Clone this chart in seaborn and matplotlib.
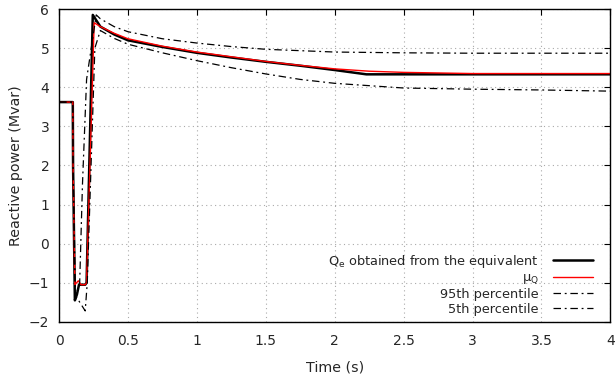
import numpy as np
import pandas as pd
import matplotlib
matplotlib.use("Agg")
import matplotlib.pyplot as plt
import seaborn as sns

# Reactive power response (Mvar) vs time (s)
t_eq = [0.0, 0.10, 0.102, 0.115, 0.13, 0.145, 0.19, 0.20, 0.245, 0.30, 0.40, 0.50, 0.75, 1.0, 1.25, 1.5, 1.75, 2.0, 2.23, 3.0, 4.0]
q_eq = [3.62, 3.62, 2.0, -1.45, -1.3, -1.05, -1.05, -1.0, 5.85, 5.55, 5.35, 5.2, 5.03, 4.88, 4.76, 4.65, 4.55, 4.44, 4.33, 4.33, 4.33]

t_mu = [0.0, 0.10, 0.102, 0.115, 0.14, 0.16, 0.19, 0.20, 0.255, 0.30, 0.40, 0.50, 0.75, 1.0, 1.25, 1.5, 1.75, 2.0, 2.25, 2.5, 3.0, 4.0]
q_mu = [3.62, 3.62, 2.0, -1.05, -0.95, -1.05, -1.05, -1.0, 5.65, 5.55, 5.38, 5.24, 5.05, 4.9, 4.78, 4.66, 4.56, 4.47, 4.41, 4.38, 4.35, 4.35]

t_p95 = [0.0, 0.10, 0.102, 0.12, 0.15, 0.17, 0.20, 0.27, 0.30, 0.40, 0.50, 0.75, 1.0, 1.25, 1.5, 2.0, 2.5, 3.0, 3.5, 4.0]
q_p95 = [3.62, 3.62, 2.0, -1.35, -1.0, 1.5, 4.2, 5.85, 5.75, 5.55, 5.42, 5.24, 5.13, 5.04, 4.97, 4.90, 4.88, 4.87, 4.87, 4.87]

t_p05 = [0.0, 0.10, 0.102, 0.115, 0.19, 0.205, 0.26, 0.30, 0.40, 0.50, 0.75, 1.0, 1.25, 1.5, 1.75, 2.0, 2.5, 3.0, 3.5, 4.0]
q_p05 = [3.62, 3.62, 2.0, -1.3, -1.72, -1.0, 5.0, 5.45, 5.25, 5.1, 4.88, 4.68, 4.5, 4.34, 4.2, 4.1, 3.98, 3.95, 3.93, 3.9]

labels = ["Q$_\\mathregular{e}$ obtained from the equivalent", "μ$_\\mathregular{Q}$",
          "95th percentile", "5th percentile"]

sns.set_theme(style="white")
plt.rcParams["font.family"] = ["DejaVu Sans"]
plt.rcParams["mathtext.default"] = "regular"

fig = plt.figure(figsize=(6.16, 3.76), dpi=100)
ax = fig.add_axes([0.0958, 0.144, 0.895, 0.832])

dashdot = (6, 3, 1.5, 3)
series = [
    (t_eq, q_eq, labels[0], "black", 1.8, ""),
    (t_mu, q_mu, labels[1], "#ff0000", 1.0, ""),
    (t_p95, q_p95, labels[2], "black", 0.9, dashdot),
    (t_p05, q_p05, labels[3], "black", 0.9, dashdot),
]
for t, q, lab, col, lw, dash in series:
    df = pd.DataFrame({"t": t, "q": q})
    line_ax = sns.lineplot(data=df, x="t", y="q", ax=ax, color=col, linewidth=lw,
                           label=lab, sort=False, estimator=None)
    if dash:
        line_ax.lines[-1].set_dashes(dash)

ax.set_xlim(0, 4)
ax.set_ylim(-2, 6)
ax.set_xticks(np.arange(0, 4.01, 0.5))
ax.set_xticklabels(["0", "0.5", "1", "1.5", "2", "2.5", "3", "3.5", "4"])
ax.set_yticks(np.arange(-2, 6.01, 1))
ax.set_xlabel("Time (s)", fontsize=10.3, labelpad=9)
ax.set_ylabel("Reactive power (Mvar)", fontsize=10.3, labelpad=4)
ax.tick_params(axis="both", direction="in", length=4, width=0.8, labelsize=10,
               top=True, right=True, color="black")
ax.tick_params(axis="x", pad=9)
ax.tick_params(axis="y", pad=7)
ax.grid(True, color="#aaaaaa", linestyle=(0, (1, 3)), linewidth=0.8)
for sp in ax.spines.values():
    sp.set_color("black")
    sp.set_linewidth(1.0)

leg = ax.legend(loc="lower right", bbox_to_anchor=(0.973, 0.012), frameon=False,
                markerfirst=False, fontsize=9.3, handlelength=3.1,
                labelspacing=0.12, borderaxespad=0.0, borderpad=0.2,
                handletextpad=1.1)
for txt in leg.get_texts():
    txt.set_ha("right")
leg._legend_box.align = "right"

fig.savefig("out.png", dpi=100)
